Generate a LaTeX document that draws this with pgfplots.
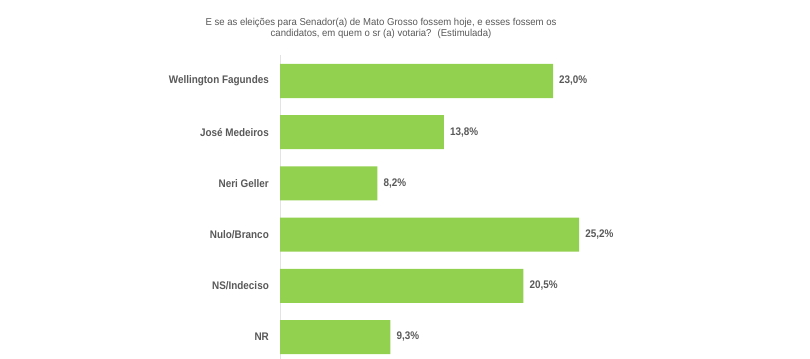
\documentclass[border=0pt]{standalone}
\usepackage{pgfplots}
\pgfplotsset{compat=1.18}
\usepackage{fontspec}
\setmainfont{Liberation Sans}[FakeStretch=0.9]
\newfontfamily\titlefont{Liberation Sans}[FakeStretch=0.955]
\definecolor{barg}{HTML}{92D050}
\definecolor{txt}{HTML}{595959}
\definecolor{axg}{HTML}{E3E3E3}
\begin{document}
\begin{tikzpicture}
\useasboundingbox[fill=white] (0,0) rectangle (810bp,359bp);
\begin{axis}[
 at={(280bp,303.6bp)}, anchor=north west,
 scale only axis, width=474.8bp, height=307.2bp,
 xmin=0, xmax=40, ymin=-0.5, ymax=5.5, y dir=reverse,
 xbar, bar width=34bp,
 axis x line=none,
 axis y line*=left, y axis line style={draw=axg, -},
 ytick={0,...,5},
 yticklabels={Wellington Fagundes, José Medeiros, Neri Geller, Nulo/Branco, NS/Indeciso, NR},
 major tick length=0pt,
 yticklabel style={font=\fontsize{11bp}{13bp}\selectfont\bfseries, text=txt, inner sep=0pt, xshift=-11bp},
 nodes near coords={\pgfmathprintnumber[fixed,fixed zerofill,precision=1,use comma,assume math mode=true]{\pgfplotspointmeta}\%},
 point meta=x,
 every node near coord/.append style={font=\fontsize{11bp}{13bp}\selectfont\bfseries, text=txt, inner sep=0pt, anchor=west, xshift=6bp},
 clip=false,
]
\addplot[fill=barg, draw=none] coordinates {(23.0,0) (13.8,1) (8.2,2) (25.2,3) (20.5,4) (9.3,5)};
\end{axis}
\node[font=\titlefont\fontsize{10bp}{11bp}\selectfont, text=txt, align=center, anchor=north] at (381bp,344bp)
 {E se as eleições para Senador(a) de Mato Grosso fossem hoje, e esses fossem os\\candidatos, em quem o sr (a) votaria?~ (Estimulada)};
\end{tikzpicture}
\end{document}
